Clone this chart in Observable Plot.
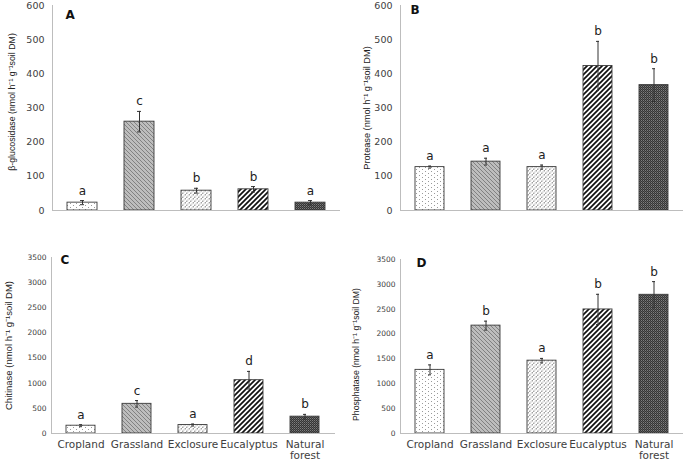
<!DOCTYPE html>
<html>
<head>
<meta charset="utf-8">
<script src="https://cdn.jsdelivr.net/npm/d3@7"></script>
<script src="https://cdn.jsdelivr.net/npm/@observablehq/plot@0.6"></script>
<style>
  html, body { margin: 0; padding: 0; background: #fff; }
  #wrap { position: relative; width: 685px; height: 462px; background: #fff; overflow: hidden; }
  .panel { position: absolute; }
  .panel svg { display: block; overflow: visible; }
</style>
</head>
<body>
<svg width="0" height="0" style="position:absolute">
  <defs>
    <pattern id="pCrop" width="6" height="4" patternUnits="userSpaceOnUse">
      <rect width="6" height="4" fill="#ffffff"/>
      <rect x="1" y="1" width="1" height="1" fill="#9a9a9a"/>
      <rect x="4" y="3" width="1" height="1" fill="#9a9a9a"/>
    </pattern>
    <pattern id="pGrass" width="4" height="4" patternUnits="userSpaceOnUse">
      <rect width="4" height="4" fill="#bdbdbd"/>
      <path d="M-1,-1 L5,5 M3,-1 L5,1 M-1,3 L1,5" stroke="#7a7a7a" stroke-width="0.9"/>
    </pattern>
    <pattern id="pExcl" width="4" height="4" patternUnits="userSpaceOnUse">
      <rect width="4" height="4" fill="#ffffff"/>
      <path d="M-1,5 L5,-1 M-1,1 L1,-1 M3,5 L5,3" stroke="#7a7a7a" stroke-width="1.1" stroke-dasharray="1.4 1"/>
    </pattern>
    <pattern id="pEuc" width="5" height="5" patternUnits="userSpaceOnUse">
      <rect width="5" height="5" fill="#ffffff"/>
      <path d="M-1,6 L6,-1 M-1,1 L1,-1 M4,6 L6,4" stroke="#111111" stroke-width="1.7"/>
    </pattern>
    <pattern id="pNat" width="2" height="2" patternUnits="userSpaceOnUse">
      <rect width="2" height="2" fill="#353535"/>
      <rect x="0" y="0" width="1" height="1" fill="#7e7e7e"/>
      <rect x="1" y="1" width="1" height="1" fill="#5a5a5a"/>
    </pattern>
  </defs>
</svg>
<div id="wrap"></div>
<script>
// ---- data ----
const categories = ["Cropland", "Grassland", "Exclosure", "Eucalyptus", "Natural forest"];

const glucosidase = [23, 260, 58, 62, 23];
const glucosidaseSE = [6, 30, 7, 8, 6];
const glucosidaseLetters = ["a", "c", "b", "b", "a"];

const protease = [127, 143, 127, 423, 367];
const proteaseSE = [3, 10, 6, 72, 48];
const proteaseLetters = ["a", "a", "a", "b", "b"];

const chitinase = [155, 590, 168, 1060, 335];
const chitinaseSE = [20, 65, 20, 175, 45];
const chitinaseLetters = ["a", "c", "a", "d", "b"];

const phosphatase = [1280, 2170, 1465, 2495, 2790];
const phosphataseSE = [100, 90, 45, 305, 265];
const phosphataseLetters = ["a", "b", "a", "b", "b"];

const ticksSmall = [0, 100, 200, 300, 400, 500, 600];
const ticksLarge = [0, 500, 1000, 1500, 2000, 2500, 3000, 3500];

const unit = " (nmol h\u207B\u00B9 g\u207B\u00B9soil DM)";
const patterns = ["url(#pCrop)", "url(#pGrass)", "url(#pExcl)", "url(#pEuc)", "url(#pNat)"];

function panel(o) {
  const rows = categories.map((c, i) => ({cat: c, v: o.values[i], se: o.se[i], L: o.letters[i]}));
  const marks = [
    Plot.barY(rows, {x: "cat", y: "v", fill: "cat", stroke: "#3a3a3a", strokeWidth: 0.9}),
    Plot.ruleY([0], {stroke: "#bdbdbd", strokeWidth: 1}),
    Plot.frame({anchor: "left", stroke: "#bdbdbd"}),
    Plot.ruleX(rows, {x: "cat", y1: d => d.v - d.se, y2: d => d.v + d.se, stroke: "#333", strokeWidth: 1}),
    Plot.tickY(rows, {x: "cat", y: d => d.v + d.se, insetLeft: 13, insetRight: 13, stroke: "#333"}),
    Plot.tickY(rows, {x: "cat", y: d => d.v - d.se, insetLeft: 13, insetRight: 13, stroke: "#333"}),
    Plot.text(rows, {x: "cat", y: d => d.v + d.se, text: "L", dy: -6, lineAnchor: "bottom", fontSize: 12, fill: "#222"}),
    Plot.axisY({ticks: o.ticks, tickSize: 0, tickPadding: o.tickPad, label: null, fontSize: o.tickFont, tickFormat: d => String(d)}),
    Plot.text([o.ylabel], {frameAnchor: "left", rotate: -90, dx: -o.labelOffset, dy: o.labelDy, fontSize: o.labelFont,
      fontFamily: "Liberation Sans, Arial, sans-serif", fill: "#222", lineAnchor: "middle", textAnchor: "middle"}),
    Plot.text([o.tag], {frameAnchor: "top-left", textAnchor: "start", lineAnchor: "middle", dx: o.tagDx, dy: o.tagDy, fontSize: 12, fontWeight: "bold", fill: "#111"})
  ];
  if (o.xaxis) {
    marks.push(Plot.axisX({tickSize: 0, tickPadding: 7, label: null, fontSize: 10.5, lineHeight: 1.05,
      tickFormat: d => d === "Natural forest" ? "Natural\nforest" : d}));
  }
  const chart = Plot.plot({
    width: o.width, height: o.height,
    marginTop: o.mt, marginBottom: o.mb, marginLeft: o.ml, marginRight: o.mr,
    style: {fontFamily: "DejaVu Sans, Verdana, sans-serif", color: "#404040", background: "#fff", overflow: "visible"},
    x: {domain: categories, paddingInner: 0.48, paddingOuter: 0.24, axis: o.xaxis ? undefined : null},
    y: {domain: o.domain},
    color: {type: "ordinal", domain: categories, range: patterns},
    marks
  });
  const div = document.createElement("div");
  div.className = "panel";
  div.style.left = o.left + "px";
  div.style.top = o.top + "px";
  div.appendChild(chart);
  document.getElementById("wrap").appendChild(div);
}

panel({values: glucosidase, se: glucosidaseSE, letters: glucosidaseLetters, ticks: ticksSmall, domain: [0, 600],
  ylabel: "\u03B2-glucosidase" + unit, tag: "A", left: 0, top: 0, width: 343, height: 230,
  mt: 5, mb: 20, ml: 52, mr: 3, tickPad: 8, tickFont: 9.5, labelFont: 8.8, labelOffset: 40, labelDy: -6, tagDx: 13, tagDy: 10, xaxis: false});

panel({values: protease, se: proteaseSE, letters: proteaseLetters, ticks: ticksSmall, domain: [0, 600],
  ylabel: "Protease" + unit, tag: "B", left: 343, top: 0, width: 342, height: 230,
  mt: 5, mb: 20, ml: 57, mr: 2, tickPad: 8, tickFont: 9.5, labelFont: 9.2, labelOffset: 33, labelDy: 0, tagDx: 10, tagDy: 5, xaxis: false});

panel({values: chitinase, se: chitinaseSE, letters: chitinaseLetters, ticks: ticksLarge, domain: [0, 3500],
  ylabel: "Chitinase" + unit, tag: "C", left: 0, top: 230, width: 343, height: 232,
  mt: 27, mb: 29, ml: 51, mr: 8, tickPad: 5, tickFont: 7.5, labelFont: 9.5, labelOffset: 43, labelDy: 0, tagDx: 9, tagDy: 3, xaxis: true});

panel({values: phosphatase, se: phosphataseSE, letters: phosphataseLetters, ticks: ticksLarge, domain: [0, 3500],
  ylabel: "Phosphatase" + unit, tag: "D", left: 343, top: 230, width: 342, height: 232,
  mt: 29, mb: 29, ml: 57, mr: 2, tickPad: 5, tickFont: 7.5, labelFont: 8.7, labelOffset: 44, labelDy: 8, tagDx: 16, tagDy: 4, xaxis: true});
</script>
</body>
</html>
